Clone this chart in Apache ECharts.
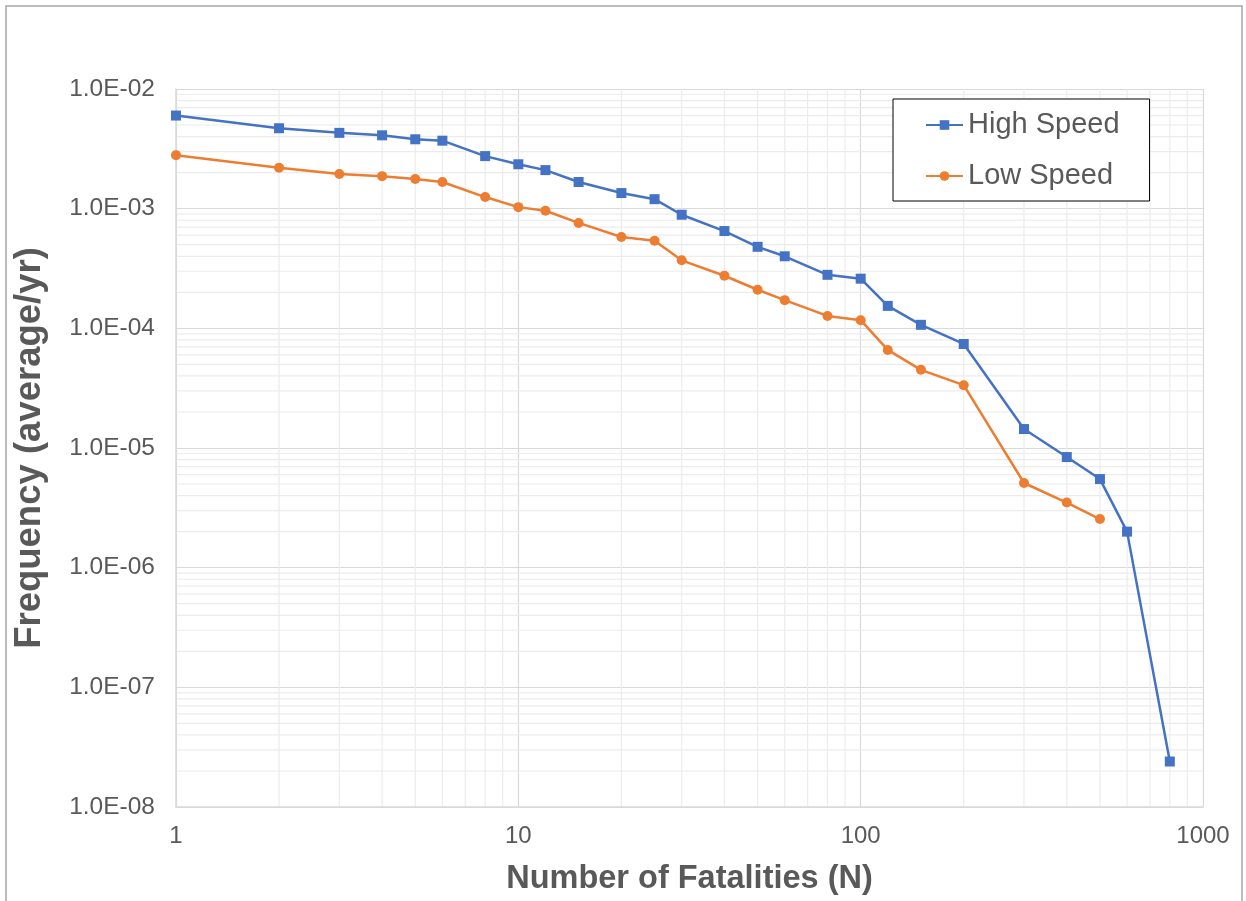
<!DOCTYPE html>
<html>
<head>
<meta charset="utf-8">
<script src="https://cdn.jsdelivr.net/npm/echarts@6/dist/echarts.min.js"></script>
<style>
  html, body { margin: 0; padding: 0; background: #fff; }
  #main { width: 1246px; height: 901px; }
</style>
</head>
<body>
<div id="main"></div>
<script>
var fatalitiesHigh = [1, 2, 3, 4, 5, 6, 8, 10, 12, 15, 20, 25, 30, 40, 50, 60, 80, 100, 120, 150, 200, 300, 400, 500, 600, 800];
var freqHigh = [6.0e-3, 4.7e-3, 4.3e-3, 4.1e-3, 3.8e-3, 3.7e-3, 2.75e-3, 2.35e-3, 2.1e-3, 1.67e-3, 1.35e-3, 1.2e-3, 8.9e-4,
  6.5e-4, 4.8e-4, 4.0e-4, 2.8e-4, 2.6e-4, 1.54e-4, 1.07e-4, 7.4e-5, 1.44e-5, 8.4e-6, 5.5e-6, 2.0e-6, 2.4e-8];
var fatalitiesLow = [1, 2, 3, 4, 5, 6, 8, 10, 12, 15, 20, 25, 30, 40, 50, 60, 80, 100, 120, 150, 200, 300, 400, 500];
var freqLow = [2.8e-3, 2.2e-3, 1.95e-3, 1.87e-3, 1.77e-3, 1.67e-3, 1.25e-3, 1.03e-3, 9.6e-4, 7.6e-4, 5.8e-4, 5.4e-4, 3.7e-4,
  2.75e-4, 2.1e-4, 1.72e-4, 1.27e-4, 1.17e-4, 6.6e-5, 4.5e-5, 3.35e-5, 5.1e-6, 3.5e-6, 2.55e-6];
var seriesNames = ['High Speed', 'Low Speed'];

var xMin = 1, xMax = 1000;
var yMin = 1e-8, yMax = 1e-2;

var font = 'Arial, "Liberation Sans", sans-serif';
var grey = '#595959';

function pairs(xs, ys) {
  return xs.map(function (x, i) { return [x, ys[i]]; });
}

// minor gridlines 2..9 in each decade, like excel
var minorX = [];
for (var d = xMin; d < xMax; d *= 10) {
  for (var k = 2; k <= 9; k++) minorX.push([k * d, yMin]);
}
var minorY = [];
for (var e = -8; e < -2; e++) {
  for (var k = 2; k <= 9; k++) minorY.push([xMin, k * Math.pow(10, e)]);
}

function sci(v) {
  var ex = Math.round(Math.log10(v));
  var m = v / Math.pow(10, ex);
  return m.toFixed(1) + 'E' + (ex < 0 ? '-' : '+') + String(Math.abs(ex)).padStart(2, '0');
}

function gridLine(vertical) {
  return function (params, api) {
    var a, b;
    if (vertical) {
      a = api.coord([api.value(0), yMin]);
      b = api.coord([api.value(0), yMax]);
    } else {
      a = api.coord([xMin, api.value(1)]);
      b = api.coord([xMax, api.value(1)]);
    }
    return {
      type: 'line',
      shape: { x1: a[0], y1: a[1], x2: b[0], y2: b[1] },
      style: { stroke: '#ececec', lineWidth: 1.2 },
      silent: true
    };
  };
}

var myChart = echarts.init(document.getElementById('main'));
var option = {
  backgroundColor: '#fff',
  animation: false,
  textStyle: { fontFamily: font },
  graphic: [{
    type: 'rect',
    shape: { x: 6, y: 6, width: 1236, height: 920 },
    style: { fill: 'none', stroke: '#a6a6a6', lineWidth: 1.5 },
    silent: true
  }],
  grid: { left: 176, right: 43, top: 89, bottom: 94 },
  legend: {
    data: seriesNames,
    orient: 'vertical',
    left: 893,
    top: 99,
    z: 10,
    backgroundColor: '#fff',
    borderColor: '#000',
    borderWidth: 1,
    padding: [11, 30, 10, 32],
    itemGap: 21,
    itemWidth: 37,
    itemHeight: 12,
    textStyle: { fontSize: 29, color: grey, fontFamily: font, lineHeight: 30 }
  },
  xAxis: {
    type: 'log',
    logBase: 10,
    min: xMin,
    max: xMax,
    name: 'Number of Fatalities (N)',
    nameLocation: 'middle',
    nameGap: 56,
    nameTextStyle: { fontSize: 32.5, fontWeight: 'bold', color: grey, fontFamily: font },
    axisLine: { lineStyle: { color: '#d9d9d9', width: 1.5 } },
    axisTick: { show: false },
    axisLabel: { fontSize: 24, color: grey, margin: 17, formatter: function (v) { return String(v); } },
    splitLine: { show: true, lineStyle: { color: '#d9d9d9', width: 1.2 } }
  },
  yAxis: {
    type: 'log',
    logBase: 10,
    min: yMin,
    max: yMax,
    name: 'Frequency (average/yr)',
    nameLocation: 'middle',
    nameGap: 128,
    nameTextStyle: { fontSize: 36.5, fontWeight: 'bold', color: grey, fontFamily: font },
    axisLine: { show: true, lineStyle: { color: '#d9d9d9', width: 1.5 } },
    axisTick: { show: false },
    axisLabel: { fontSize: 24.5, color: grey, margin: 21, formatter: sci },
    splitLine: { show: true, lineStyle: { color: '#d9d9d9', width: 1.2 } }
  },
  series: [
    {
      name: 'minorX',
      type: 'custom',
      z: 0,
      silent: true,
      data: minorX,
      renderItem: gridLine(true)
    },
    {
      name: 'minorY',
      type: 'custom',
      z: 0,
      silent: true,
      data: minorY,
      renderItem: gridLine(false)
    },
    {
      name: seriesNames[0],
      type: 'line',
      z: 4,
      data: pairs(fatalitiesHigh, freqHigh),
      symbol: 'rect',
      symbolSize: 10,
      itemStyle: { color: '#4472C4' },
      lineStyle: { color: '#4472C4', width: 2.5 }
    },
    {
      name: seriesNames[1],
      type: 'line',
      z: 3,
      data: pairs(fatalitiesLow, freqLow),
      symbol: 'circle',
      symbolSize: 10,
      itemStyle: { color: '#ED7D31' },
      lineStyle: { color: '#ED7D31', width: 2.5 }
    }
  ]
};
myChart.setOption(option);
window.onresize = function () {
  myChart.resize();
};
</script>
</body>
</html>
